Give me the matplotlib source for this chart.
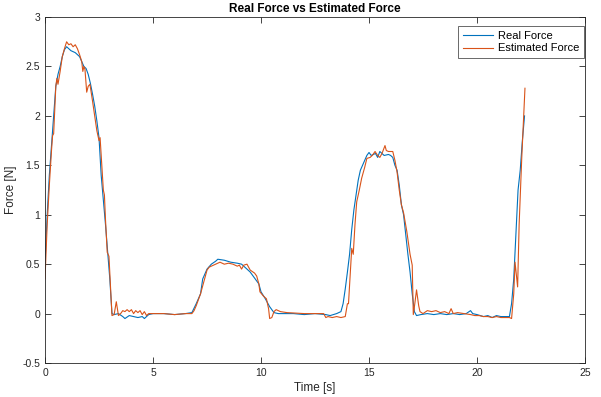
import matplotlib.pyplot as plt

plt.rcParams['font.family'] = ['Liberation Sans', 'DejaVu Sans']

# real force (blue)
t_real = [0, 0.1, 0.2, 0.3, 0.4, 0.5, 0.6, 0.7, 0.8, 0.9, 1.0, 1.1, 1.2, 1.3, 1.4,
          1.5, 1.6, 1.7, 1.8, 1.9, 2.0, 2.1, 2.2, 2.3, 2.4, 2.5, 2.6, 2.7, 2.8, 2.9,
          3.0, 3.1, 3.2, 3.4, 3.6, 3.7, 3.9, 4.1, 4.3, 4.5, 4.6, 4.8, 5.0, 5.5, 6.0,
          6.5, 6.8, 7.0, 7.2, 7.3, 7.5, 7.7, 7.9, 8.0, 8.3, 8.6, 8.9, 9.1, 9.3, 9.5,
          9.7, 9.9, 10.0, 10.2, 10.4, 10.6, 10.8, 11.5, 12.0, 12.5, 13.0, 13.2, 13.5,
          13.7, 13.8, 13.9, 14.0, 14.1, 14.2, 14.3, 14.4, 14.5, 14.6, 14.7, 14.8,
          14.9, 15.0, 15.1, 15.3, 15.4, 15.5, 15.7, 15.9, 16.0, 16.1, 16.2, 16.3,
          16.4, 16.5, 16.6, 16.7, 16.8, 16.9, 17.0, 17.1, 17.2, 17.4, 17.7, 18.0,
          18.3, 18.6, 18.9, 19.2, 19.5, 19.7, 19.8, 20.0, 20.3, 20.5, 20.7, 20.9,
          21.1, 21.3, 21.5, 21.6, 21.7, 21.8, 21.9, 22.0, 22.1, 22.2]
f_real = [0.5, 1.0, 1.4, 1.7, 2.0, 2.3, 2.42, 2.5, 2.6, 2.67, 2.7, 2.68, 2.66, 2.65, 2.64,
          2.62, 2.6, 2.55, 2.5, 2.48, 2.42, 2.33, 2.22, 2.1, 1.95, 1.78, 1.4, 1.15, 0.9, 0.62,
          0.35, 0.0, -0.01, 0.0, -0.03, -0.05, -0.02, -0.03, -0.04, -0.03, -0.05, -0.01, 0.0, 0.0, -0.01,
          0.0, 0.01, 0.1, 0.2, 0.35, 0.45, 0.5, 0.53, 0.55, 0.54, 0.52, 0.51, 0.5, 0.46, 0.42,
          0.36, 0.3, 0.22, 0.15, 0.07, 0.01, 0.0, 0.0, -0.01, 0.0, -0.01, -0.02, 0.0,
          0.02, 0.1, 0.25, 0.42, 0.6, 0.85, 1.05, 1.2, 1.35, 1.45, 1.5, 1.55,
          1.6, 1.63, 1.6, 1.62, 1.58, 1.64, 1.6, 1.61, 1.6, 1.58, 1.5, 1.45,
          1.3, 1.1, 1.0, 0.8, 0.6, 0.42, 0.2, 0.02, -0.02, -0.01, 0.0, -0.01,
          0.0, -0.01, 0.0, -0.01, 0.0, 0.03, 0.0, -0.01, -0.03, -0.02, -0.04, -0.02,
          -0.03, -0.03, -0.03, 0.1, 0.35, 0.8, 1.25, 1.45, 1.75, 2.0]

# estimated force (orange)
t_est = [0, 0.1, 0.2, 0.3, 0.35, 0.4, 0.5, 0.55, 0.6, 0.7, 0.8, 0.9, 1.0, 1.1, 1.2,
         1.3, 1.4, 1.5, 1.6, 1.7, 1.75, 1.8, 1.85, 1.93, 2.0, 2.08, 2.2, 2.3, 2.4,
         2.5, 2.55, 2.6, 2.7, 2.75, 2.8, 2.88, 2.96, 3.05, 3.1, 3.2, 3.3, 3.4, 3.5,
         3.6, 3.7, 3.8, 3.9, 4.0, 4.1, 4.2, 4.3, 4.4, 4.5, 4.6, 4.7, 4.8, 5.5, 6.0,
         6.5, 6.8, 6.9, 7.0, 7.1, 7.2, 7.3, 7.4, 7.5, 7.6, 7.8, 8.0, 8.1, 8.3, 8.5,
         8.7, 8.9, 9.0, 9.1, 9.2, 9.35, 9.5, 9.7, 9.8, 9.9, 9.95, 10.1, 10.25, 10.35,
         10.4, 10.5, 10.6, 10.7, 10.9, 11.2, 12.0, 12.5, 12.9, 13.0, 13.1, 13.3,
         13.5, 13.7, 13.9, 14.0, 14.05, 14.2, 14.27, 14.35, 14.43, 14.55, 14.66,
         14.8, 14.9, 15.05, 15.15, 15.28, 15.4, 15.5, 15.6, 15.74, 15.8, 15.9, 16.1,
         16.2, 16.3, 16.4, 16.5, 16.6, 16.75, 16.9, 17.0, 17.05, 17.12, 17.2, 17.3,
         17.36, 17.5, 17.7, 17.9, 18.1, 18.3, 18.5, 18.7, 18.8, 18.9, 19.1, 19.4,
         19.7, 19.9, 20.1, 20.3, 20.5, 20.7, 20.9, 21.1, 21.3, 21.5, 21.6, 21.7,
         21.76, 21.88, 21.95, 22.07, 22.15, 22.22]
f_est = [0.35, 0.9, 1.3, 1.65, 1.8, 1.82, 2.3, 2.38, 2.32, 2.45, 2.6, 2.68, 2.75, 2.72, 2.73,
         2.7, 2.72, 2.68, 2.62, 2.55, 2.45, 2.5, 2.47, 2.24, 2.3, 2.32, 2.15, 2.0, 1.85,
         1.75, 1.78, 1.6, 1.25, 1.2, 0.95, 0.62, 0.58, 0.2, -0.02, -0.01, 0.12, -0.02, 0.0,
         0.03, 0.02, 0.04, 0.02, 0.04, 0.0, 0.03, 0.01, 0.03, -0.01, 0.02, -0.02, 0.0, 0.0, -0.01,
         0.0, 0.0, 0.03, 0.08, 0.14, 0.2, 0.28, 0.36, 0.44, 0.47, 0.49, 0.51, 0.52, 0.5, 0.51,
         0.5, 0.48, 0.49, 0.45, 0.49, 0.5, 0.44, 0.41, 0.38, 0.3, 0.22, 0.18, 0.15, 0.05,
         -0.05, -0.04, 0.02, 0.04, 0.02, 0.01, 0.0, 0.0, 0.0, -0.04, -0.03, -0.04,
         -0.03, -0.04, -0.03, 0.1, 0.1, 0.66, 0.6, 0.9, 1.13, 1.25, 1.37,
         1.48, 1.57, 1.58, 1.6, 1.64, 1.6, 1.58, 1.62, 1.7, 1.65, 1.64, 1.64,
         1.55, 1.43, 1.25, 1.1, 1.02, 0.83, 0.6, 0.49, -0.01, 0.1, 0.24, 0.08,
         0.02, 0.0, 0.03, 0.02, 0.03, 0.01, 0.02, 0.0, 0.05, 0.0, 0.01, 0.0,
         -0.01, -0.02, -0.02, -0.03, -0.03, -0.04, -0.03, -0.04, -0.04, -0.04, -0.05, 0.2,
         0.52, 0.27, 0.9, 1.57, 1.95, 2.28]

fig = plt.figure(figsize=(6.01, 3.97), dpi=100)
ax = fig.add_axes([0.0749, 0.0856, 0.8985, 0.8714])

ax.plot(t_real, f_real, color='#0072BD', lw=0.8, label='Real Force')
ax.plot(t_est, f_est, color='#D95319', lw=0.8, label='Estimated Force')

ax.set_xlim(0, 25)
ax.set_ylim(-0.5, 3)
ax.set_xticks([0, 5, 10, 15, 20, 25])
ax.set_yticks([-0.5, 0, 0.5, 1, 1.5, 2, 2.5, 3])
ax.set_yticklabels(['-0.5', '0', '0.5', '1', '1.5', '2', '2.5', '3'])
ax.tick_params(direction='in', top=True, right=True, length=4, width=0.6,
               labelsize=7.5, colors='#262626')
for s in ax.spines.values():
    s.set_linewidth(0.6)
    s.set_color('#262626')

ax.set_title('Real Force vs Estimated Force', fontsize=8.5, fontweight='bold', pad=4)
ax.set_xlabel('Time [s]', fontsize=8.5, color='#262626', labelpad=3)
ax.set_ylabel('Force [N]', fontsize=8.5, color='#262626', labelpad=4)

leg = ax.legend(loc='upper right', bbox_to_anchor=(0.9985, 0.975), borderaxespad=0,
                fontsize=8, frameon=True, fancybox=False,
                handlelength=2.7, handletextpad=0.4, borderpad=0.45,
                labelspacing=0.25)
leg.get_frame().set_edgecolor('#262626')
leg.get_frame().set_linewidth(0.6)

fig.savefig('out.png', dpi=100)
